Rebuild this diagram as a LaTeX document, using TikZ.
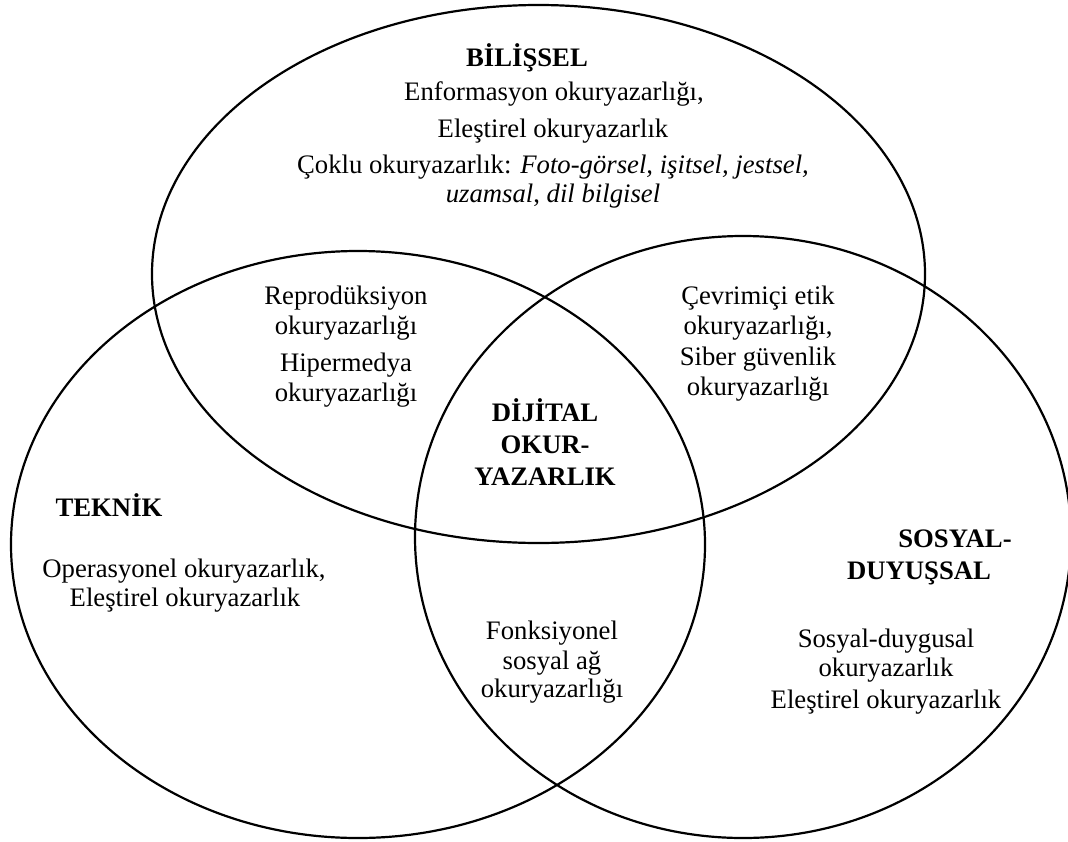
\documentclass[tikz,border=0pt]{standalone}
\usepackage{fontspec}
\setmainfont{Liberation Serif}
\begin{document}
\begin{tikzpicture}[x=1pt,y=-1pt,
  ring/.style={line width=2.2pt, black},
  txt/.style={anchor=base, inner sep=0pt, font=\fontsize{26.7}{30}\selectfont},
  head/.style={anchor=base, inner sep=0pt, font=\fontsize{26.7}{30}\selectfont\bfseries}]
\useasboundingbox (0,0) rectangle (1068,841);

% the three overlapping areas
\draw[ring] (538.5,274) ellipse [x radius=386.5pt, y radius=269pt];
\draw[ring] (358,544.5) ellipse [x radius=347pt, y radius=293.5pt];
\draw[ring] (743,537) ellipse [x radius=328pt, y radius=301pt];

% cognitive
\node[head] (bil) at (527,66) {BİLİŞSEL};
\node[txt] (bil1) at (554,100) {Enformasyon okuryazarlığı,};
\node[txt] (bil2) at (553,137) {Eleştirel okuryazarlık};
\node[txt] (bil3) at (553,173) {Çoklu okuryazarlık: \textit{Foto-görsel, işitsel, jestsel,}};
\node[txt] (bil4) at (553,202) {\textit{uzamsal}, \textit{dil bilgisel}};

% cognitive + technical
\node[txt] (bt1) at (346,304) {Reprodüksiyon};
\node[txt] (bt2) at (346,334) {okuryazarlığı};
\node[txt] (bt3) at (346,371) {Hipermedya};
\node[txt] (bt4) at (346,401) {okuryazarlığı};

% cognitive + socio-emotional
\node[txt] (bs1) at (758,304) {Çevrimiçi etik};
\node[txt] (bs2) at (758,334) {okuryazarlığı,};
\node[txt] (bs3) at (758,365) {Siber güvenlik};
\node[txt] (bs4) at (758,395) {okuryazarlığı};

% centre
\node[head] (dij1) at (545,421) {DİJİTAL};
\node[head] (dij2) at (545,453) {OKUR-};
\node[head] (dij3) at (545,485) {YAZARLIK};

% technical
\node[head] (tek) at (109,516) {TEKNİK};
\node[txt] (tek1) at (184,577) {Operasyonel okuryazarlık,};
\node[txt] (tek2) at (185,606) {Eleştirel okuryazarlık};

% technical + socio-emotional
\node[txt] (ts1) at (552,639) {Fonksiyonel};
\node[txt] (ts2) at (552,669) {sosyal ağ};
\node[txt] (ts3) at (552,697) {okuryazarlığı};

% socio-emotional
\node[head] (sos1) at (955,547) {SOSYAL-};
\node[head] (sos2) at (919,579) {DUYUŞSAL};
\node[txt] (sd1) at (886,647) {Sosyal-duygusal};
\node[txt] (sd2) at (886,676) {okuryazarlık};
\node[txt] (sd3) at (886,708) {Eleştirel okuryazarlık};
\end{tikzpicture}
\end{document}
